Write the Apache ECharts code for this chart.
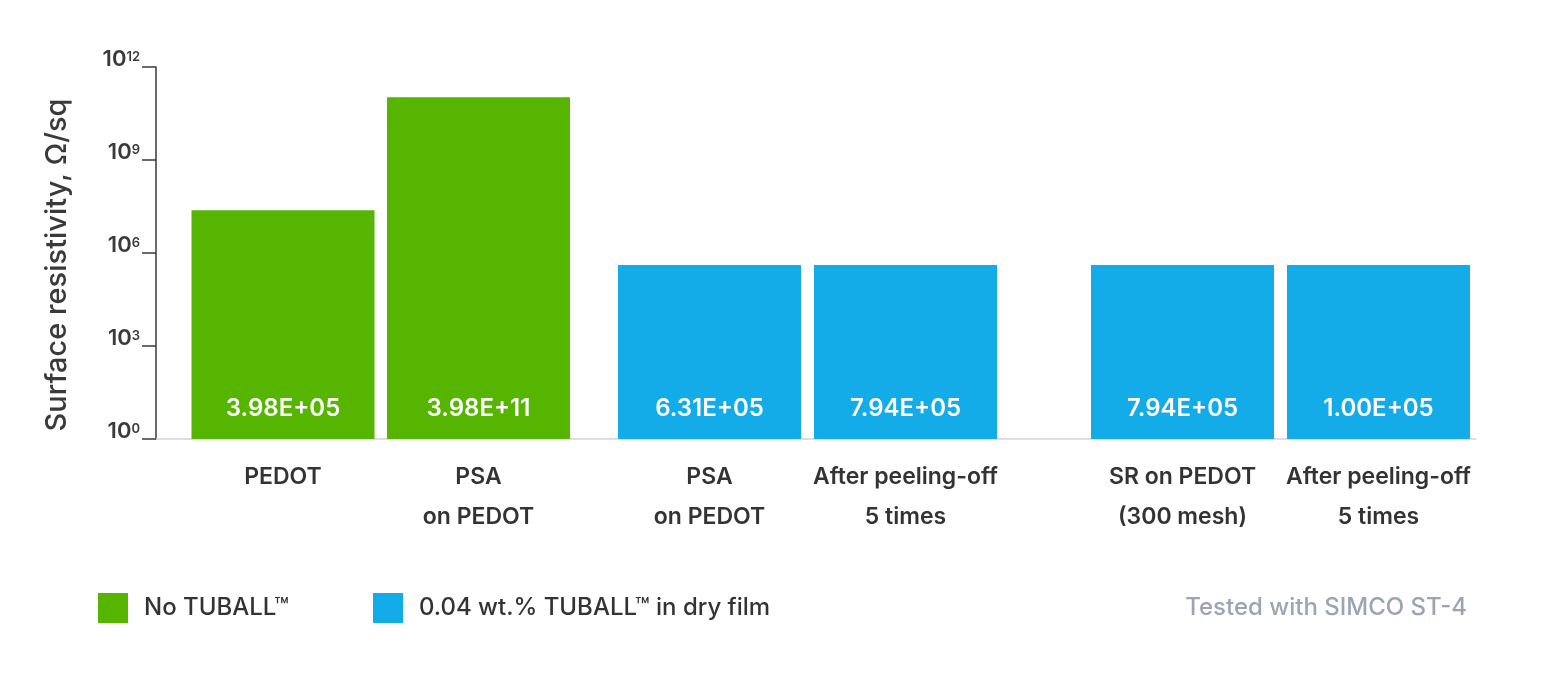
<!DOCTYPE html>
<html>
<head>
<meta charset="utf-8">
<script src="https://cdn.jsdelivr.net/npm/echarts@6/dist/echarts.min.js"></script>
<style>
  html, body { margin: 0; padding: 0; background: #fff; }
  #chart { width: 1552px; height: 696px; }
</style>
</head>
<body>
<div id="chart"></div>
<script>
// categories per group
const group1Labels = ['PEDOT', 'PSA\non PEDOT'];
const group2Labels = ['PSA\non PEDOT', 'After peeling-off\n5 times'];
const group3Labels = ['SR on PEDOT\n(300 mesh)', 'After peeling-off\n5 times'];

// bar heights as drawn (Ω/sq)
const group1Values = [2.4e7, 1.05e11];
const group2Values = [4.07e5, 4.07e5];
const group3Values = [4.07e5, 4.07e5];

// value labels printed inside the bars
const group1Text = ['3.98E+05', '3.98E+11'];
const group2Text = ['6.31E+05', '7.94E+05'];
const group3Text = ['7.94E+05', '1.00E+05'];

const seriesNames = ['No TUBALL™', '0.04 wt.% TUBALL™ in dry film'];
const yTicks = [1, 1e3, 1e6, 1e9, 1e12];

const green = '#55b501';
const blue = '#13abe8';
const font = 'Inter';

const gridTop = 67, gridBottom = 257;
const grids = [
  { left: 156, right: 76, top: gridTop, bottom: gridBottom },
  { left: 185.25, right: 975.75, top: gridTop, bottom: gridBottom },
  { left: 611.5, right: 548.5, top: gridTop, bottom: gridBottom },
  { left: 1084.5, right: 75.5, top: gridTop, bottom: gridBottom }
];

function catAxis(idx, data) {
  return {
    type: 'category', gridIndex: idx, data: data,
    axisLine: { show: false }, axisTick: { show: false },
    axisLabel: {
      interval: 0, margin: 18, color: '#333', fontFamily: font,
      fontSize: 23, fontWeight: 600, lineHeight: 40, verticalAlign: 'top'
    }
  };
}

function logAxis(idx, visible) {
  return {
    type: 'log', gridIndex: idx, logBase: 1000, min: yTicks[0], max: yTicks[yTicks.length - 1],
    show: visible,
    name: visible ? 'Surface resistivity, Ω/sq' : '',
    nameLocation: 'middle', nameGap: 84,
    nameTextStyle: { color: '#3a3a3a', fontFamily: font, fontSize: 29, fontWeight: 500, padding: [0, 24, 0, 0] },
    splitLine: { show: false },
    axisLine: { show: true, lineStyle: { color: '#3a3a3a', width: 1.5 } },
    axisTick: { show: true, length: 14, lineStyle: { color: '#3a3a3a', width: 1.5 } },
    axisLabel: {
      margin: 16, verticalAlign: 'bottom',
      formatter: function (v) {
        return '{b|10}{s|' + Math.round(Math.log10(v)) + '}';
      },
      rich: {
        b: { fontFamily: font, fontSize: 22, fontWeight: 600, color: '#3a3a3a', lineHeight: 16 },
        s: { fontFamily: font, fontSize: 13, fontWeight: 600, color: '#3a3a3a', lineHeight: 12, verticalAlign: 'top' }
      }
    }
  };
}

function barSeries(name, idx, values, texts, color) {
  return {
    name: name, type: 'bar', xAxisIndex: idx, yAxisIndex: idx,
    barWidth: 183, itemStyle: { color: color },
    data: values,
    label: {
      show: true, position: 'insideBottom', distance: 18,
      color: '#fff', fontFamily: font, fontSize: 24, fontWeight: 600,
      formatter: function (p) { return texts[p.dataIndex]; }
    }
  };
}

const chart = echarts.init(document.getElementById('chart'));
chart.setOption({
  backgroundColor: '#fff',
  animation: false,
  grid: grids,
  title: {
    text: 'Tested with SIMCO ST-4', right: 85, top: 596, padding: 0,
    textStyle: { color: '#9aa4b6', fontFamily: font, fontSize: 24, fontWeight: 500 }
  },
  legend: {
    left: 98, top: 593, padding: 0, itemWidth: 30, itemHeight: 30, itemGap: 84,
    icon: 'rect',
    data: seriesNames,
    textStyle: { color: '#333', fontFamily: font, fontSize: 24, fontWeight: 500, padding: [0, 0, 0, 11] }
  },
  xAxis: [
    {
      type: 'value', gridIndex: 0, min: 0, max: 1,
      axisLine: { show: true, lineStyle: { color: '#d4d4d4', width: 1.5 } },
      axisTick: { show: false }, axisLabel: { show: false }, splitLine: { show: false }
    },
    catAxis(1, group1Labels),
    catAxis(2, group2Labels),
    catAxis(3, group3Labels)
  ],
  yAxis: [logAxis(0, true), logAxis(1, false), logAxis(2, false), logAxis(3, false)],
  series: [
    barSeries(seriesNames[0], 1, group1Values, group1Text, green),
    barSeries(seriesNames[1], 2, group2Values, group2Text, blue),
    barSeries(seriesNames[1], 3, group3Values, group3Text, blue)
  ]
});
</script>
</body>
</html>
